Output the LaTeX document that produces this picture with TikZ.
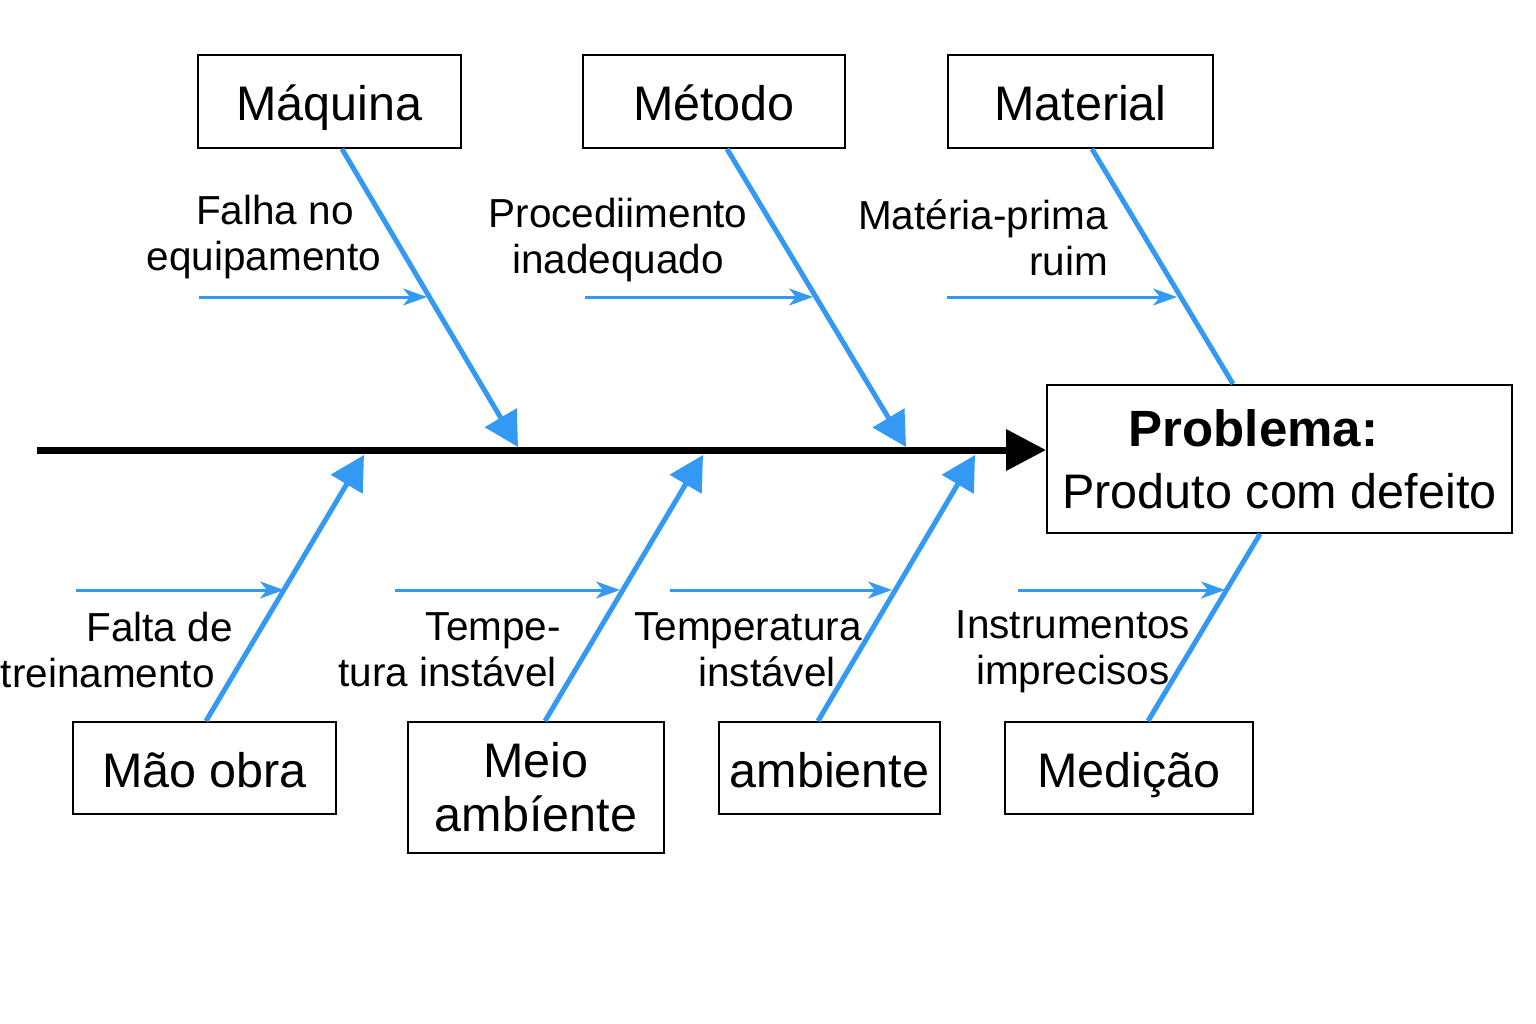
\documentclass[tikz,border=0pt]{standalone}
\usepackage{fontspec}
\setmainfont{Liberation Sans}
\usetikzlibrary{arrows.meta}
\definecolor{bonec}{HTML}{3399F3}
\begin{document}
\begin{tikzpicture}[x=1pt,y=-1pt,
  cat/.style={draw=black,line width=2pt,fill=white,inner sep=0pt,align=center,font=\fontsize{48.5}{54}\selectfont},
  oneline/.style={text height=43pt,text depth=5pt},
  lbl/.style={inner sep=0pt,font=\fontsize{40.5}{46}\selectfont},
  bonearrow/.style={draw=bonec,line width=5pt,-{Triangle[length=34pt,width=36pt]}},
  boneline/.style={draw=bonec,line width=5pt},
  sub/.style={draw=bonec,line width=3pt,-{Stealth[length=24pt,width=17pt,inset=7pt]}},
  spine/.style={draw=black,line width=7pt,-{Triangle[length=40pt,width=40pt]}}]
\useasboundingbox (0,0) rectangle (1536,1024);
\fill[white] (0,0) rectangle (1536,1024);

% problem box
\node[cat,minimum width=465pt,minimum height=148pt] (prob) at (1279.5,459)
  {\textbf{\fontsize{51}{60}\selectfont Problema:}\hspace*{52pt}\\[8pt]Produto com defeito};

% category boxes
\node[cat,oneline,minimum width=263pt,minimum height=93pt] (maq) at (329.5,101.5) {Máquina};
\node[cat,oneline,minimum width=262pt,minimum height=93pt] (met) at (714,101.5) {Método};
\node[cat,oneline,minimum width=265pt,minimum height=93pt] (mat) at (1080.5,101.5) {Material};
\node[cat,oneline,minimum width=263pt,minimum height=92pt] (mao) at (204.5,768) {Mão obra};
\node[cat,minimum width=256pt,minimum height=131pt] (mei) at (536,787.5) {Meio\\ambíente};
\node[cat,oneline,minimum width=221pt,minimum height=92pt] (amb) at (829.5,768) {ambiente};
\node[cat,oneline,minimum width=248pt,minimum height=92pt] (med) at (1129,768) {Medição};

% spine
\coordinate (tail) at (37,450);
\draw[spine] (tail) -- (tail -| prob.west);

% bones
\coordinate (tA) at (518,447);
\coordinate (tB) at (906,447);
\coordinate (tC) at (364,455);
\coordinate (tD) at (703,455);
\coordinate (tE) at (975,455);
\draw[bonearrow] ([xshift=12.5pt]maq.south) -- (tA);
\draw[bonearrow] ([xshift=13pt]met.south) -- (tB);
\draw[boneline] ([xshift=11.5pt]mat.south) -- ([xshift=-46.5pt]prob.north);
\draw[bonearrow] ([xshift=1.5pt]mao.north) -- (tC);
\draw[bonearrow] ([xshift=9pt]mei.north) -- (tD);
\draw[bonearrow] ([xshift=-11.5pt]amb.north) -- (tE);
\draw[boneline] ([xshift=19pt]med.north) -- ([xshift=-19.5pt]prob.south);

% sub-cause arrows
\coordinate (s1) at (199,297);  \coordinate (e1) at (427,297);
\coordinate (s2) at (585,297);  \coordinate (e2) at (813,297);
\coordinate (s3) at (947,297);  \coordinate (e3) at (1177,297);
\coordinate (s4) at (76,590);   \coordinate (e4) at (284,590);
\coordinate (s5) at (395,590);  \coordinate (e5) at (620,590);
\coordinate (s6) at (670,590);  \coordinate (e6) at (892,590);
\coordinate (s7) at (1018,590); \coordinate (e7) at (1225,590);
\draw[sub] (s1) -- (e1);
\draw[sub] (s2) -- (e2);
\draw[sub] (s3) -- (e3);
\draw[sub] (s4) -- (e4);
\draw[sub] (s5) -- (e5);
\draw[sub] (s6) -- (e6);
\draw[sub] (s7) -- (e7);

% labels
\node[lbl,align=center] (l1) at (264,237) {\hspace*{22pt}Falha no\\equipamento};
\node[lbl,align=center] (l2) at (618,240) {Procediimento\\inadequado};
\node[lbl,align=right,anchor=east] (l3) at (1108,238) {Matéria-prima\\ruim};
\node[lbl,align=right,anchor=east] (l4) at (233,650) {Falta de\\treinamento\hspace*{18pt}};
\node[lbl,align=right,anchor=east] (l5) at (557,650) {Tempe-\hspace*{-4pt}\\tura instável};
\node[lbl,align=center] (l6) at (748,650) {Temperatura\\\hspace*{38pt}instável};
\node[lbl,align=center] (l7) at (1073,652) {Instrumentos\\imprecisos};
\end{tikzpicture}
\end{document}
